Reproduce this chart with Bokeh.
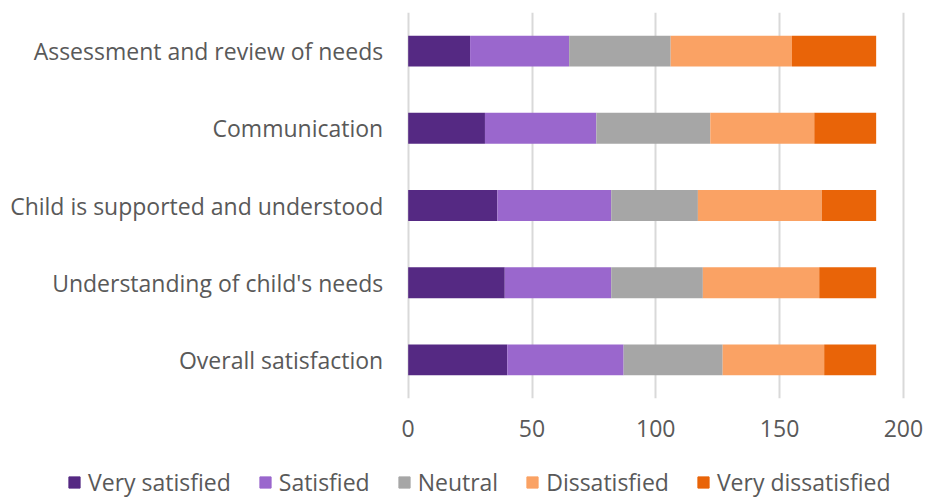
from bokeh.plotting import figure
from bokeh.layouts import column
from bokeh.core.properties import value
from bokeh.models import Legend, LegendItem, ColumnDataSource, FixedTicker, Range1d
from bokeh.embed import file_html
from bokeh.resources import INLINE

categories = ["Assessment and review of needs", "Communication",
              "Child is supported and understood", "Understanding of child's needs",
              "Overall satisfaction"]
very_satisfied = [25, 31, 36, 39, 40]
satisfied = [40, 45, 46, 43, 47]
neutral = [41, 46, 35, 37, 40]
dissatisfied = [49, 42, 50, 47, 41]
very_dissatisfied = [34, 25, 22, 23, 21]
series_names = ["Very satisfied", "Satisfied", "Neutral", "Dissatisfied", "Very dissatisfied"]
x_ticks = [0, 50, 100, 150, 200]

colors = ["#552983", "#9a67cd", "#a6a6a6", "#faa264", "#e96408"]
FONT = "Open Sans"
FS = "23px"
TXT = "#595959"

W = 926
ZERO_PX, PX_PER_UNIT = 407.7, 2.476
x_start = -ZERO_PX / PX_PER_UNIT
x_end = x_start + W / PX_PER_UNIT

y_order = list(reversed(categories))
p = figure(width=W, height=450, y_range=y_order, x_range=(x_start, x_end),
           output_backend="svg", toolbar_location=None,
           min_border_left=0, min_border_right=0, min_border_top=12,
           min_border_bottom=52)
p.outline_line_color = None
p.background_fill_color = "white"
p.border_fill_color = "white"

data = dict(cat=categories, vs=very_satisfied, s=satisfied, n=neutral,
            d=dissatisfied, vd=very_dissatisfied)
src = ColumnDataSource(data)
keys = ["vs", "s", "n", "d", "vd"]
p.hbar_stack(keys, y="cat", height=0.4, color=colors, source=src, line_width=0)

# category labels, right-aligned just left of the value origin
p.text(x=[0] * len(categories), y=categories, text=categories, x_offset=-25,
       text_align="right", text_baseline="middle", text_font=value(FONT),
       text_font_size=value(FS), text_color=TXT)

p.yaxis.visible = False
p.xaxis.ticker = FixedTicker(ticks=x_ticks)
p.xgrid.ticker = FixedTicker(ticks=x_ticks)
p.xgrid.grid_line_color = "#d9d9d9"
p.xgrid.grid_line_width = 2
p.xgrid.level = "underlay"
p.ygrid.grid_line_color = None
p.xaxis.axis_line_color = None
p.xaxis.major_tick_line_color = None
p.xaxis.minor_tick_line_color = None
p.xaxis.major_label_text_font = FONT
p.xaxis.major_label_text_color = TXT
p.xaxis.major_label_text_font_size = FS
p.xaxis.major_label_standoff = 15

# legend strip
lg = figure(width=W, height=48, x_range=Range1d(0, 1), y_range=Range1d(0, 1),
            output_backend="svg", toolbar_location=None,
            min_border_left=0, min_border_right=0, min_border_top=0, min_border_bottom=0)
lg.axis.visible = False
lg.grid.visible = False
lg.outline_line_color = None
items = []
for name, c in zip(series_names, colors):
    r = lg.rect(x=[-5], y=[-5], width=0.1, height=0.1, color=c)
    items.append(LegendItem(label=name, renderers=[r]))
legend = Legend(items=items, orientation="horizontal", location=(67, 0),
                label_text_font=FONT, label_text_color=TXT, label_text_font_size=FS,
                glyph_width=14, glyph_height=14, label_standoff=7, spacing=27,
                padding=0, margin=0, border_line_color=None, background_fill_alpha=0)
lg.add_layout(legend, "center")

layout = column(p, lg, spacing=0)
open("out.html", "w").write(file_html(layout, INLINE))
